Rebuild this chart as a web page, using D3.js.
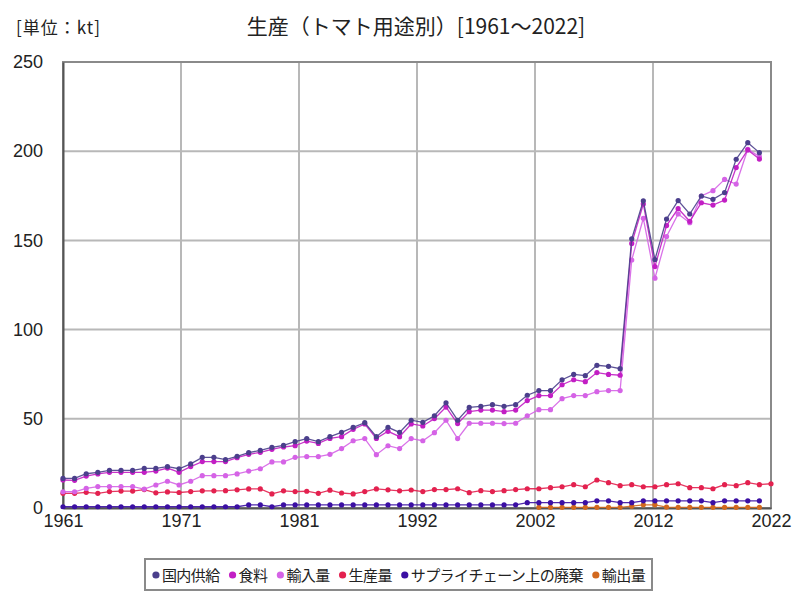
<!DOCTYPE html>
<html>
<head>
<meta charset="utf-8">
<script src="https://cdn.jsdelivr.net/npm/d3@7/dist/d3.min.js"></script>
<style>
  body { margin: 0; background: #fff; }
  text { font-family: "Noto Sans CJK JP", "Noto Sans", sans-serif; fill: #222; }
</style>
</head>
<body>
<div class="graph"></div>
<script>
// values in kt
var firstYear = 1961;
var lastYear = 2022;

var domesticSupply = [16.6, 16.6, 19.2, 20.0, 21.1, 21.1, 21.1, 22.2, 22.2, 23.2,
    22.0, 24.7, 28.4, 28.4, 27.1, 29.0, 31.0, 32.3, 34.0, 35.1,
    37.2, 38.9, 37.2, 40.0, 42.4, 45.2, 47.8, 40.0, 45.2, 42.4,
    49.2, 48.0, 51.7, 59.0, 49.2, 56.4, 57.0, 57.9, 57.0, 57.9,
    63.2, 65.8, 65.8, 71.9, 74.9, 74.2, 80.0, 79.4, 78.1, 150.9,
    172.2, 139.3, 162.0, 172.3, 164.8, 174.9, 173.0, 176.8, 195.5, 204.8,
    199.2];
var food = [15.7, 15.5, 17.9, 19.1, 20.0, 20.0, 20.0, 20.0, 20.7, 22.4,
    20.0, 23.2, 26.0, 26.0, 26.0, 28.2, 30.1, 31.2, 32.9, 34.2,
    34.9, 37.5, 36.2, 39.0, 40.0, 44.1, 47.1, 39.0, 43.0, 40.0,
    47.1, 46.0, 50.1, 56.6, 47.3, 54.0, 54.9, 54.9, 54.0, 54.9,
    60.2, 63.0, 63.0, 69.1, 71.9, 70.8, 75.9, 74.9, 74.4, 148.3,
    170.4, 135.3, 158.3, 167.8, 160.7, 171.1, 169.8, 172.6, 190.8, 200.7,
    195.6];
var imports = [9.1, 9.1, 11.0, 12.0, 12.0, 12.0, 12.0, 10.6, 12.9, 15.0,
    12.9, 15.0, 18.1, 18.1, 18.1, 19.1, 20.7, 22.0, 25.8, 25.8,
    28.4, 28.8, 28.8, 30.1, 33.3, 37.7, 38.9, 29.9, 34.9, 33.3,
    38.9, 37.7, 42.2, 49.2, 38.9, 47.5, 47.5, 47.5, 47.3, 47.5,
    51.7, 55.1, 55.1, 61.3, 63.0, 63.0, 65.2, 65.8, 65.8, 139.0,
    162.4, 128.8, 152.2, 164.8, 159.9, 174.9, 177.9, 184.2, 181.6, 201.1,
    197.0];
var production = [8.2, 8.2, 8.8, 8.2, 9.2, 9.5, 9.5, 10.3, 8.5, 9.0,
    8.7, 9.2, 9.6, 9.6, 9.7, 10.2, 10.7, 10.7, 7.9, 9.6,
    9.2, 9.4, 8.2, 10.0, 8.4, 7.9, 9.2, 10.7, 10.2, 9.6,
    10.1, 9.2, 10.3, 10.3, 10.8, 8.6, 9.7, 9.2, 9.7, 10.3,
    10.8, 10.8, 11.4, 11.9, 13.1, 11.9, 15.7, 14.2, 12.5, 13.1,
    11.9, 11.9, 13.1, 13.6, 11.4, 11.4, 10.8, 13.1, 12.5, 14.2,
    13.1, 13.6];
var supplyChainWaste = [0.7, 0.7, 0.7, 0.7, 0.7, 0.7, 0.7, 0.7, 0.7, 0.7,
    0.7, 0.7, 0.7, 0.7, 0.7, 0.7, 1.7, 1.7, 0.7, 1.7,
    1.7, 1.7, 1.7, 1.7, 1.7, 1.7, 1.7, 1.7, 1.7, 1.7,
    1.7, 1.7, 1.7, 1.7, 1.7, 1.7, 1.7, 1.7, 1.7, 1.8,
    3.0, 3.0, 3.0, 3.0, 3.0, 3.0, 4.0, 4.0, 3.0, 3.0,
    4.0, 4.0, 4.0, 4.0, 4.0, 4.0, 3.0, 4.0, 4.0, 4.0,
    4.0];
var exportsFirstYear = 2002;
var exports = [0.3, 0.3, 0.3, 0.3, 0.3, 0.3, 0.3, 0.3, 1.0,
    1.8, 1.8, 0.5, 0.3, 0.3, 0.3, 0.3, 0.3, 0.3, 0.3, 0.3];

var seriesNames = ["国内供給", "食料", "輸入量", "生産量", "サプライチェーン上の廃棄", "輸出量"];
var seriesColors = ["#4b3f8c", "#c21ec4", "#d563e6", "#e3214f", "#3b0fa3", "#d2691e"];
var yTicks = [0, 50, 100, 150, 200, 250];
var xTickLabels = ["1961", "1971", "1981", "1992", "2002", "2012", "2022"];

var chartTitle = "生産（トマト用途別）[1961～2022]";
var unitLabel = "[単位：kt]";

var loadChart = function () {
    const WIDTH = 800;
    const HEIGHT = 600;
    const LEFT = 63, RIGHT = 771, TOP = 62, BOTTOM = 508;

    var toPoints = function (values, start) {
        return values.map(function (v, i) { return {year: start + i, value: v}; });
    };

    var series = [
        toPoints(domesticSupply, firstYear),
        toPoints(food, firstYear),
        toPoints(imports, firstYear),
        toPoints(production, firstYear),
        toPoints(supplyChainWaste, firstYear),
        toPoints(exports, exportsFirstYear)
    ].map(function (pts, i) {
        return {name: seriesNames[i], color: seriesColors[i], points: pts};
    });

    var xScale = d3.scaleLinear().domain([firstYear, lastYear]).range([LEFT, RIGHT]);
    var yScale = d3.scaleLinear().domain([0, 250]).range([BOTTOM, TOP]);

    var svg = d3.select(".graph").append("svg")
        .attr("width", WIDTH)
        .attr("height", HEIGHT);

    svg.append("rect").attr("width", WIDTH).attr("height", HEIGHT).attr("fill", "#fff");

    // x ticks sit at equal sixths of the year span
    var xTickValues = xTickLabels.map(function (d, i) {
        return firstYear + i * (lastYear - firstYear) / (xTickLabels.length - 1);
    });

    // grid
    svg.append("g").selectAll("line.h")
        .data(yTicks.slice(1))
        .enter().append("line")
        .attr("x1", LEFT).attr("x2", RIGHT)
        .attr("y1", function (d) { return yScale(d); })
        .attr("y2", function (d) { return yScale(d); })
        .style("stroke", "#b8b8b8").style("stroke-width", 2);

    svg.append("g").selectAll("line.v")
        .data(xTickValues.slice(1))
        .enter().append("line")
        .attr("x1", function (d) { return xScale(d); })
        .attr("x2", function (d) { return xScale(d); })
        .attr("y1", TOP).attr("y2", BOTTOM)
        .style("stroke", "#b8b8b8").style("stroke-width", 2);

    // frame
    svg.append("rect")
        .attr("x", LEFT).attr("y", TOP)
        .attr("width", RIGHT - LEFT).attr("height", BOTTOM - TOP)
        .style("fill", "none").style("stroke", "#8a8a8a").style("stroke-width", 2);

    // axes
    var yAxis = d3.axisLeft(yScale).tickValues(yTicks).tickSize(0).tickPadding(20);
    svg.append("g")
        .attr("class", "y axis")
        .attr("transform", "translate(" + LEFT + ",0)")
        .call(yAxis)
        .call(function (g) { g.select(".domain").attr("stroke", "#555").attr("stroke-width", 2); })
        .selectAll("text")
        .style("font-size", "18px").style("font-family", "'Liberation Sans', sans-serif").attr("fill", "#222");

    var xAxis = d3.axisBottom(xScale).tickValues(xTickValues).tickSize(0).tickPadding(6)
        .tickFormat(function (d, i) { return xTickLabels[i]; });
    svg.append("g")
        .attr("class", "x axis")
        .attr("transform", "translate(0," + BOTTOM + ")")
        .call(xAxis)
        .call(function (g) { g.select(".domain").attr("stroke", "#555").attr("stroke-width", 2); })
        .selectAll("text")
        .style("font-size", "18px").style("font-family", "'Liberation Sans', sans-serif").attr("fill", "#222");

    // lines and dots, first series drawn last so it stays on top
    var line = d3.line()
        .x(function (d) { return xScale(d.year); })
        .y(function (d) { return yScale(d.value); });

    series.slice().reverse().forEach(function (s) {
        svg.append("path")
            .datum(s.points)
            .attr("d", line)
            .style("fill", "none")
            .style("stroke", s.color)
            .style("stroke-width", 1.3)
            .style("stroke-opacity", 0.9);

        svg.append("g").selectAll("circle")
            .data(s.points)
            .enter().append("circle")
            .attr("cx", function (d) { return xScale(d.year); })
            .attr("cy", function (d) { return yScale(d.value); })
            .attr("r", 2.6)
            .style("fill", s.color);
    });

    // titles
    svg.append("text")
        .attr("x", 416).attr("y", 34)
        .attr("text-anchor", "middle")
        .style("font-size", "21px")
        .text(chartTitle);

    svg.append("text")
        .attr("x", 16).attr("y", 34)
        .style("font-size", "17px")
        .style("letter-spacing", "1px")
        .text(unitLabel);

    // legend
    var legend = svg.append("g");
    var lx = 0;
    series.forEach(function (s) {
        var item = legend.append("g").attr("transform", "translate(" + lx + ",0)");
        item.append("circle").attr("cx", 4).attr("cy", 0).attr("r", 3.6).style("fill", s.color);
        var t = item.append("text").attr("x", 10).attr("y", 5.5)
            .style("font-size", "15px").style("letter-spacing", "-0.6px").text(s.name);
        lx += 10 + t.node().getComputedTextLength() + 9;
    });
    var legendWidth = lx - 9;
    var boxLeft = 145, boxRight = 652;
    legend.attr("transform", "translate(" + ((boxLeft + boxRight) / 2 - legendWidth / 2) + ",575)");
    svg.insert("rect", "g")
        .attr("x", boxLeft).attr("y", 559)
        .attr("width", boxRight - boxLeft).attr("height", 31)
        .style("fill", "#fff").style("stroke", "#8a8a8a").style("stroke-width", 2);
};

window.onload = loadChart;
</script>
</body>
</html>
